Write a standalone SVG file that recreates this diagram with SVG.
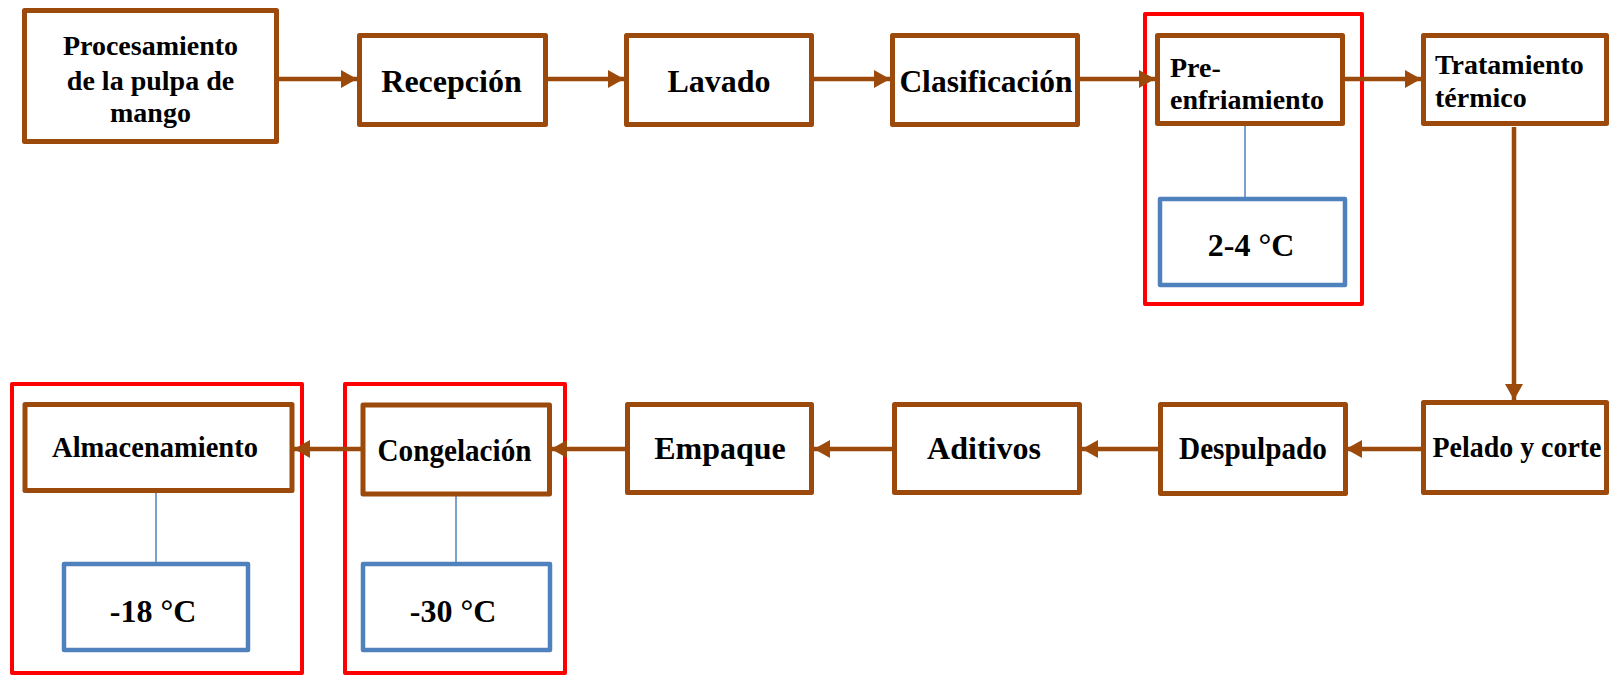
<svg xmlns="http://www.w3.org/2000/svg" width="1610" height="675" viewBox="0 0 1610 675">
  <style>
    .step { fill: #ffffff; stroke: #9C4A0B; stroke-width: 5; stroke-linejoin: round; }
    .temp { fill: #ffffff; stroke: #4F81BD; stroke-width: 4.5; stroke-linejoin: round; }
    .zone { fill: none; stroke: #FF0000; stroke-width: 4; stroke-linejoin: round; }
    .flow { stroke: #9C4A0B; stroke-width: 4.5; fill: none; }
    .tie { stroke: #4F81BD; stroke-width: 1.5; fill: none; }
    text { font-family: "Liberation Serif", "Times New Roman", serif; font-weight: bold; fill: #000000; }
    .c { text-anchor: middle; }
  </style>
  <defs>
    <marker id="arrow" markerUnits="userSpaceOnUse" markerWidth="16" markerHeight="18" refX="16" refY="9" orient="auto">
      <path d="M0,0 L16,9 L0,18 z" fill="#9C4A0B"/>
    </marker>
  </defs>
  <rect width="1610" height="675" fill="#ffffff"/>

  <!-- cold-chain highlight frames -->
  <g id="zones">
    <rect class="zone" x="1145" y="14" width="217" height="290"/>
    <rect class="zone" x="12" y="384" width="290" height="289"/>
    <rect class="zone" x="345" y="384" width="220" height="289"/>
  </g>

  <!-- process flow and temperature ties -->
  <g id="connectors">
    <line class="flow" x1="279" y1="79" x2="357" y2="79" marker-end="url(#arrow)"/>
    <line class="flow" x1="548" y1="79" x2="624" y2="79" marker-end="url(#arrow)"/>
    <line class="flow" x1="814" y1="79" x2="890" y2="79" marker-end="url(#arrow)"/>
    <line class="flow" x1="1080" y1="79" x2="1155" y2="79" marker-end="url(#arrow)"/>
    <line class="flow" x1="1345" y1="79" x2="1421" y2="79" marker-end="url(#arrow)"/>
    <line class="flow" x1="1514" y1="127" x2="1514" y2="400" marker-end="url(#arrow)"/>
    <line class="flow" x1="1421" y1="449" x2="1346" y2="449" marker-end="url(#arrow)"/>
    <line class="flow" x1="1158" y1="449" x2="1082" y2="449" marker-end="url(#arrow)"/>
    <line class="flow" x1="892" y1="449" x2="814" y2="449" marker-end="url(#arrow)"/>
    <line class="flow" x1="625" y1="449" x2="551" y2="449" marker-end="url(#arrow)"/>
    <line class="flow" x1="361" y1="449" x2="294" y2="449" marker-end="url(#arrow)"/>
    <line class="tie" x1="1245" y1="125" x2="1245" y2="197"/>
    <line class="tie" x1="156" y1="493" x2="156" y2="562"/>
    <line class="tie" x1="456" y1="496" x2="456" y2="562"/>
  </g>

  <g id="procesamiento">
    <rect class="step" x="24.5" y="10.5" width="252" height="131"/>
    <text class="c" x="150.5" y="55" font-size="28">Procesamiento</text>
    <text class="c" x="150.5" y="90" font-size="28">de la pulpa de</text>
    <text class="c" x="150.5" y="122" font-size="28">mango</text>
  </g>
  <g id="recepcion">
    <rect class="step" x="359.5" y="35.5" width="186" height="89"/>
    <text class="c" x="451.5" y="92" font-size="32">Recepción</text>
  </g>
  <g id="lavado">
    <rect class="step" x="626.5" y="35.5" width="185" height="89"/>
    <text class="c" x="719" y="92" font-size="32">Lavado</text>
  </g>
  <g id="clasificacion">
    <rect class="step" x="892.5" y="35.5" width="185" height="89"/>
    <text class="c" x="986" y="92" font-size="31.5">Clasificación</text>
  </g>
  <g id="preenfriamiento">
    <rect class="step" x="1157.5" y="35.5" width="185" height="88"/>
    <text x="1170" y="77" font-size="28">Pre-</text>
    <text x="1170" y="109" font-size="28">enfriamiento</text>
  </g>
  <g id="temp-preenfriamiento">
    <rect class="temp" x="1160" y="199" width="185" height="86"/>
    <text class="c" x="1251" y="256" font-size="32">2-4 °C</text>
  </g>
  <g id="tratamiento">
    <rect class="step" x="1423.5" y="35.5" width="183" height="88"/>
    <text x="1435" y="74" font-size="28">Tratamiento</text>
    <text x="1435" y="107" font-size="28">térmico</text>
  </g>
  <g id="pelado">
    <rect class="step" x="1423.5" y="402.5" width="183" height="90"/>
    <text class="c" x="1517" y="457" font-size="29" textLength="169" lengthAdjust="spacingAndGlyphs">Pelado y corte</text>
  </g>
  <g id="despulpado">
    <rect class="step" x="1160.5" y="404.5" width="185" height="89"/>
    <text class="c" x="1253" y="459" font-size="32" textLength="148" lengthAdjust="spacingAndGlyphs">Despulpado</text>
  </g>
  <g id="aditivos">
    <rect class="step" x="894.5" y="404.5" width="185" height="88"/>
    <text class="c" x="984" y="459" font-size="32">Aditivos</text>
  </g>
  <g id="empaque">
    <rect class="step" x="627.5" y="404.5" width="184" height="88"/>
    <text class="c" x="720" y="459" font-size="32">Empaque</text>
  </g>
  <g id="congelacion">
    <rect class="step" x="363" y="405" width="186.5" height="89"/>
    <text class="c" x="454.5" y="461" font-size="31.5" textLength="154" lengthAdjust="spacingAndGlyphs">Congelación</text>
  </g>
  <g id="temp-congelacion">
    <rect class="temp" x="363" y="564" width="187" height="86"/>
    <text class="c" x="453" y="622" font-size="32">-30 °C</text>
  </g>
  <g id="almacenamiento">
    <rect class="step" x="25" y="404.5" width="267" height="86"/>
    <text class="c" x="155" y="457" font-size="28.5">Almacenamiento</text>
  </g>
  <g id="temp-almacenamiento">
    <rect class="temp" x="64" y="564" width="184" height="86"/>
    <text class="c" x="153" y="622" font-size="32">-18 °C</text>
  </g>
</svg>
